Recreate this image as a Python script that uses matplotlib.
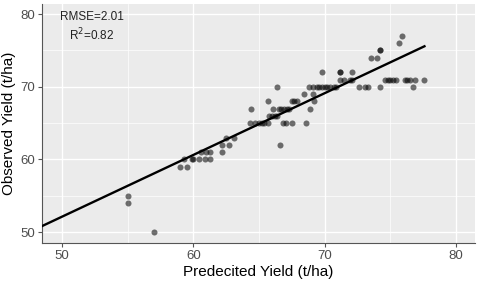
import matplotlib
matplotlib.use("Agg")
import matplotlib.pyplot as plt
import numpy as np

plt.rcParams['font.family'] = ['Liberation Sans', 'DejaVu Sans']

predicted = [55, 55, 57,
             59.0, 59.5, 59.3, 59.9, 60.0, 60.4, 60.9, 61.3,
             60.6, 61.0, 61.3, 62.2,
             62.2, 62.7, 62.5, 63.1,
             64.3, 64.7, 65.0, 65.2, 65.4, 65.7, 66.8, 67.06, 67.5, 68.6,
             66.6,
             65.8, 66.0, 66.2, 66.4,
             64.4, 66.1, 66.5, 66.7, 66.9, 67.1, 67.3, 68.9,
             65.7, 67.5, 67.7, 67.9, 69.2,
             68.4, 69.1,
             66.4, 68.8, 69.1, 69.4, 69.6, 69.8, 70.0, 70.2, 70.4, 70.7, 70.9, 72.6, 73.1, 73.3, 74.2, 76.7,
             71.2, 71.5, 71.9, 72.1, 74.6, 74.8, 75.0, 75.2, 75.4, 76.1, 76.3, 76.5, 76.9, 77.6,
             69.8, 71.2, 71.2, 72.1,
             73.5, 74.0,
             74.2, 74.2,
             75.7, 75.9]
observed = [55, 54, 50,
            59, 59, 60, 60, 60, 60, 60, 60,
            61, 61, 61, 61,
            62, 62, 63, 63,
            65, 65, 65, 65, 65, 65, 65, 65, 65, 65,
            62,
            66, 66, 66, 66,
            67, 67, 67, 67, 67, 67, 67, 67,
            68, 68, 68, 68, 68,
            69, 69,
            70, 70, 70, 70, 70, 70, 70, 70, 70, 70, 70, 70, 70, 70, 70, 70,
            71, 71, 71, 71, 71, 71, 71, 71, 71, 71, 71, 71, 71, 71,
            72, 72, 72, 72,
            74, 74,
            75, 75,
            76, 77]

fit_slope = 0.85
fit_intercept = 9.62
fit_x_end = 77.6
rmse_text = "RMSE=2.01"
r2_text = "R$^{2}$=0.82"
ticks = [50, 60, 70, 80]
minor_ticks = [55, 65, 75]

fig = plt.figure(figsize=(4.8, 2.81), dpi=100)
ax = fig.add_axes([0.0875, 0.1352, 0.9021, 0.8506])
ax.set_facecolor('#EBEBEB')
xlim = (48.48, 81.45)
ylim = (48.5, 81.4)
ax.set_xlim(*xlim)
ax.set_ylim(*ylim)

ax.set_xticks(ticks)
ax.set_yticks(ticks)
ax.set_xticks(minor_ticks, minor=True)
ax.set_yticks(minor_ticks, minor=True)
ax.grid(which='major', color='white', linewidth=1.0)
ax.grid(which='minor', color='white', linewidth=0.5)
ax.set_axisbelow(True)

for s in ['top', 'right']:
    ax.spines[s].set_visible(False)
for s in ['left', 'bottom']:
    ax.spines[s].set_color('#555555')
    ax.spines[s].set_linewidth(0.8)

ax.tick_params(which='major', length=3, width=0.8, color='#555555', labelcolor='#4D4D4D', labelsize=9.5, pad=2)
ax.tick_params(which='minor', length=0)

ax.scatter(predicted, observed, s=19, color='black', alpha=0.55, linewidths=0, zorder=3)

lx = np.array([xlim[0], fit_x_end])
ax.plot(lx, fit_intercept + fit_slope * lx, color='black', linewidth=1.7, zorder=4)

ax.text(52.3, 79.6, rmse_text, ha='center', va='center', fontsize=8.5, color='#222222')
ax.text(52.3, 77.2, r2_text, ha='center', va='center', fontsize=8.5, color='#222222')

ax.set_xlabel('Predecited Yield (t/ha)', fontsize=11, color='black', labelpad=2)
ax.set_ylabel('Observed Yield (t/ha)', fontsize=11, color='black', labelpad=3)

fig.savefig('out.png', dpi=100)
